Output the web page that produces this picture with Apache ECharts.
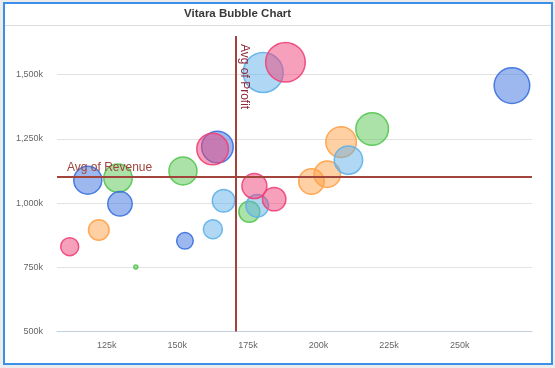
<!DOCTYPE html>
<html>
<head>
<meta charset="utf-8">
<script src="https://cdn.jsdelivr.net/npm/echarts@6/dist/echarts.min.js"></script>
<style>
  html, body { margin: 0; padding: 0; background: #ececec; }
  #frame { position: absolute; left: 3px; top: 2px; width: 546px; height: 359px; border: 2px solid #3c8fe6; background: #fff; }
  #sep { position: absolute; left: 5px; top: 25px; width: 546px; height: 1px; background: #dcdcdc; }
  #chart { position: absolute; left: 0; top: 0; width: 555px; height: 368px; }
</style>
</head>
<body>
<div id="frame"></div>
<div id="sep"></div>
<div id="chart"></div>
<script>
// [profit (x), revenue (y), bubble size]
const groupOrange = [[208000,1237000,31.6],[203100,1112000,27.4],[197500,1084000,26.4],[122200,895000,21.6]];
const groupGreen  = [[129000,1097000,29.4],[152000,1125000,29],[219000,1288000,33.6],[175500,966000,22],[135300,751000,5]];
const groupBlue   = [[118300,1089000,29],[129700,997000,25.4],[164200,1218000,32.6],[268500,1457000,36.6],[152700,853000,17.6]];
const groupLight  = [[166400,1009000,23.6],[180400,1508000,41],[210600,1167000,29.4],[178300,989000,23.6],[162600,898000,20]];
const groupPink   = [[162500,1210000,32.6],[177300,1066000,26],[188300,1548000,40.6],[184300,1015000,24.4],[111900,830000,19]];

const xTicks = [125000,150000,175000,200000,225000,250000];
const yTicks = [500000,750000,1000000,1250000,1500000];
const xMin = 107400, xMax = 275600;
const yMin = 500000, yMax = 1650000, yStep = 250000;
const avgProfit = 170700;     // vertical line (x)
const avgRevenue = 1104000;   // horizontal line (y)

const colors = {
  orange: '#ffa147', green: '#55c551', blue: '#3b71dd', light: '#61b1e9', pink: '#ef4177'
};
function hexA(h, a) {
  const r = parseInt(h.slice(1,3),16), g = parseInt(h.slice(3,5),16), b = parseInt(h.slice(5,7),16);
  return 'rgba(' + r + ',' + g + ',' + b + ',' + a + ')';
}
function bubble(name, data, c) {
  return {
    name: name, type: 'scatter', data: data,
    symbolSize: v => v[2] - 1,
    itemStyle: { color: hexA(c, 0.5), borderColor: hexA(c, 0.9), borderWidth: 1.5, opacity: 1 },
    emphasis: { disabled: true }, animation: false
  };
}
const FONT = 'Liberation Sans, Arial, sans-serif';
const chart = echarts.init(document.getElementById('chart'));
chart.setOption({
  backgroundColor: 'transparent',
  title: {
    text: 'Vitara Bubble Chart', left: 184, top: 8, padding: 0,
    textStyle: { fontSize: 11.5, fontWeight: 'bold', color: '#3a3a3a', fontFamily: FONT }
  },
  grid: { left: 57, right: 23, top: 36, bottom: 36.5 },
  xAxis: {
    type: 'value', min: xMin, max: xMax,
    axisLine: { show: true, onZero: false, lineStyle: { color: '#c0d0e0', width: 1 } },
    axisTick: { show: false },
    splitLine: { show: false },
    axisLabel: {
      customValues: xTicks, margin: 10, color: '#666', fontSize: 9, fontFamily: FONT,
      formatter: v => (v / 1000) + 'k'
    }
  },
  yAxis: {
    type: 'value', min: yMin, max: yMax, interval: yStep,
    axisLine: { show: false }, axisTick: { show: false },
    splitLine: { show: true, showMinLine: false, showMaxLine: false, lineStyle: { color: '#e2e2e2', width: 1 } },
    axisLabel: {
      showMaxLabel: false, margin: 14, color: '#666', fontSize: 9, fontFamily: FONT,
      formatter: v => (v / 1000).toLocaleString('en-US') + 'k'
    }
  },
  series: [
    bubble('Orange', groupOrange, colors.orange),
    bubble('Green', groupGreen, colors.green),
    bubble('Blue', groupBlue, colors.blue),
    bubble('Light Blue', groupLight, colors.light),
    Object.assign(bubble('Pink', groupPink, colors.pink), {
      markLine: {
        silent: true, symbol: 'none', animation: false, z: 10,
        lineStyle: { color: '#a0443c', width: 2, type: 'solid' },
        data: [
          [
            { coord: [xMin, avgRevenue] },
            { coord: [xMax, avgRevenue],
              label: { show: true, formatter: 'Avg of Revenue', position: 'insideStartTop',
                distance: [10, 3], color: '#a0443c', fontSize: 12, fontFamily: FONT } }
          ],
          [
            { coord: [avgProfit, yMax] },
            { coord: [avgProfit, yMin],
              label: { show: true, formatter: 'Avg of Profit', position: 'insideStartTop',
                distance: [8, 3], color: '#8e2a3a', fontSize: 12, fontFamily: FONT } }
          ]
        ]
      }
    })
  ]
});
</script>
</body>
</html>
